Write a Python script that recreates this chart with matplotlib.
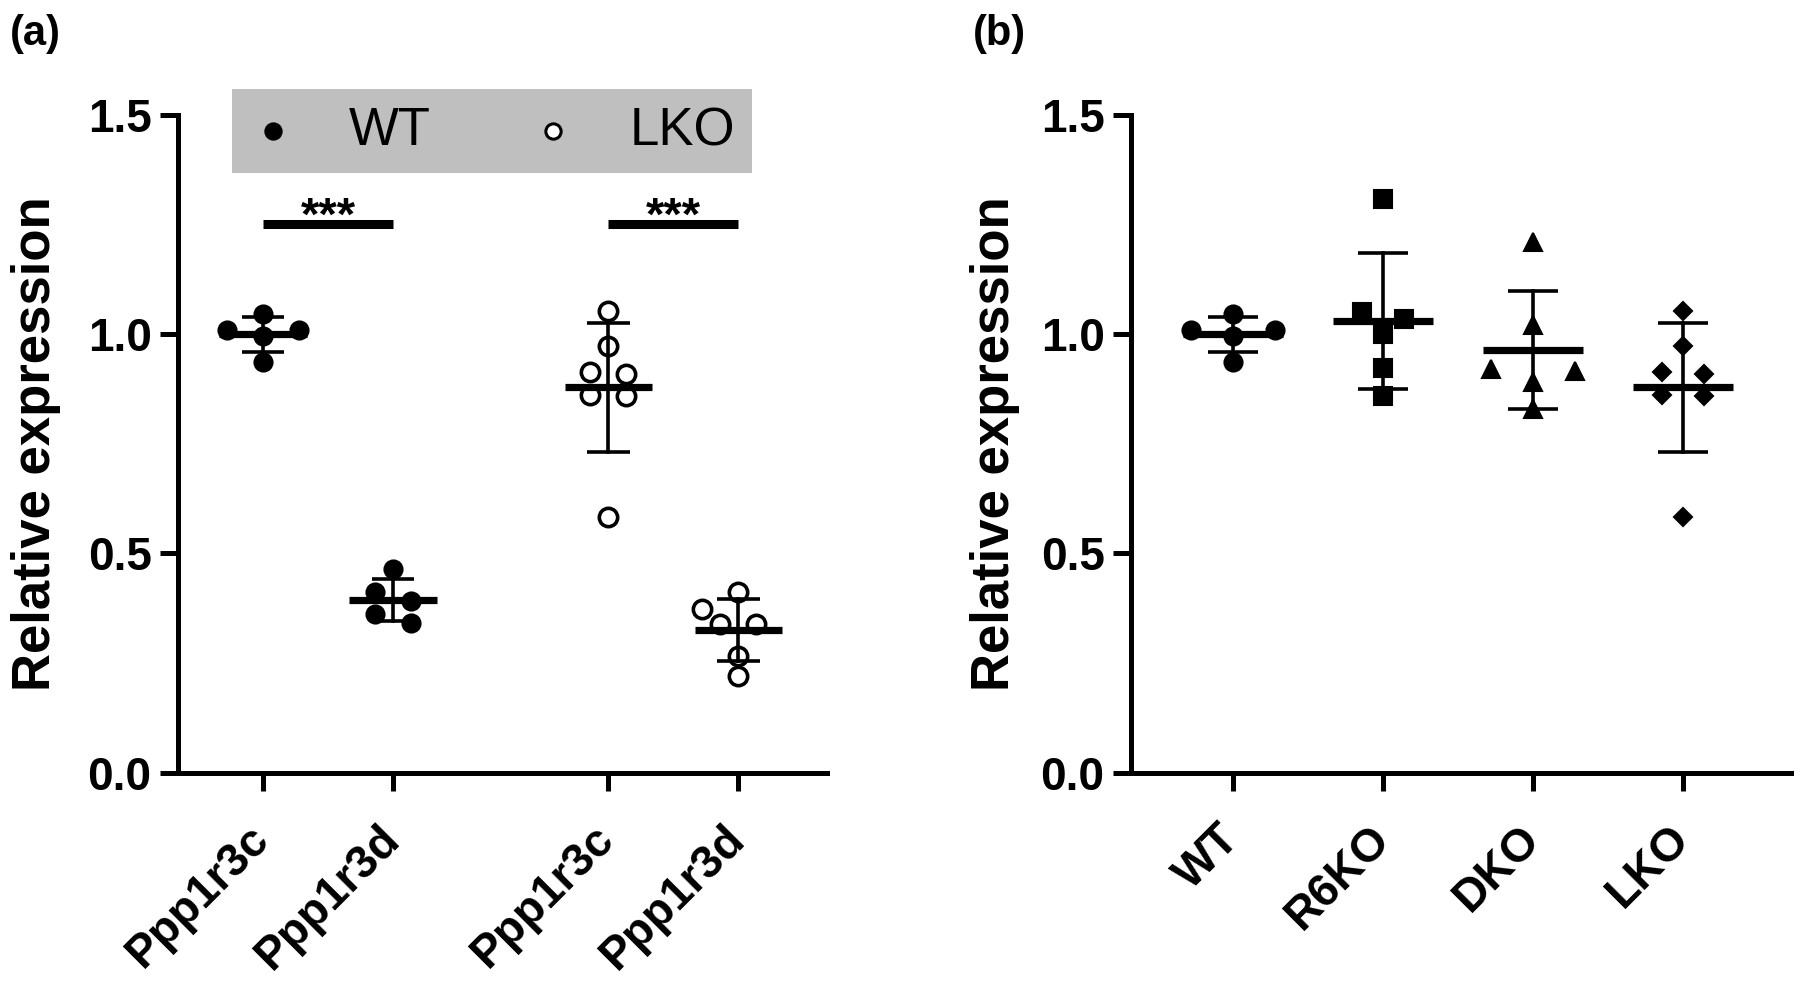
import numpy as np
import matplotlib
matplotlib.use("Agg")
import matplotlib.pyplot as plt
from matplotlib.patches import Rectangle
from matplotlib.lines import Line2D
from matplotlib.transforms import ScaledTranslation

plt.rcParams['font.family'] = ['Liberation Sans', 'DejaVu Sans']

# ---- data ----
# panel (a)
a_labels = ["Ppp1r3c", "Ppp1r3d", "Ppp1r3c", "Ppp1r3d"]
wt_r3c = [1.046, 1.010, 0.995, 1.010, 0.936]
wt_r3d = [0.464, 0.411, 0.392, 0.361, 0.341]
lko_r3c = [1.054, 0.973, 0.913, 0.909, 0.862, 0.858, 0.584]
lko_r3d = [0.413, 0.373, 0.339, 0.339, 0.266, 0.221]
sig_labels = ["***", "***"]

# panel (b)
b_labels = ["WT", "R6KO", "DKO", "LKO"]
r6ko = [1.309, 1.050, 1.034, 1.001, 0.923, 0.858]
dko = [1.210, 1.020, 0.921, 0.916, 0.890, 0.829]

legend_labels = ["WT", "LKO"]


def swarm(vals, step=0.28, gap=0.027, near=0.042):
    # rows of close values spread sideways, graphpad-ish
    vals = np.asarray(vals, dtype=float)
    order = np.argsort(-vals, kind="stable")
    rows = []
    cur = [order[0]]
    for i in order[1:]:
        if vals[cur[-1]] - vals[i] < gap:
            cur.append(i)
        else:
            rows.append(cur)
            cur = [i]
    rows.append(cur)
    off = np.full(len(vals), np.nan)
    for r in rows:
        n = len(r)
        slots = [(k - (n - 1) / 2) for k in range(n)]
        slots = sorted(slots, key=lambda s: (-abs(s), s))
        for i, s in zip(r, slots):
            off[i] = s * step
        if n == 1:
            i = r[0]
            for cand in [0.0, -step, step]:
                ok = True
                for j in range(len(vals)):
                    if j == i or np.isnan(off[j]):
                        continue
                    if abs(off[j] - cand) < step / 2 and abs(vals[j] - vals[i]) < near:
                        ok = False
                if ok:
                    off[i] = cand
                    break
    return off


def draw_group(ax, x, vals, marker, ms, filled=True):
    vals = np.asarray(vals)
    off = swarm(vals)
    ax.plot(x + off, vals, linestyle="none", marker=marker, ms=ms,
            mfc="black" if filled else "white", mec="black",
            mew=1.5 if filled else 2.6, zorder=3, clip_on=False)
    m = vals.mean()
    sd = vals.std(ddof=1)
    ax.plot([x - 0.335, x + 0.335], [m, m], color="black", lw=5.2,
            solid_capstyle="butt", zorder=4)
    ax.plot([x, x], [m - sd, m + sd], color="black", lw=2.6, zorder=4)
    for yy in (m - sd, m + sd):
        ax.plot([x - 0.165, x + 0.165], [yy, yy], color="black", lw=2.6,
                solid_capstyle="butt", zorder=4)


def style_axis(ax, labels, xpos, xlim):
    ax.set_ylim(0, 1.5)
    ax.set_xlim(*xlim)
    ax.set_yticks([0, 0.5, 1.0, 1.5])
    ax.set_yticklabels(["0.0", "0.5", "1.0", "1.5"], fontsize=33, fontweight="bold")
    ax.set_xticks(xpos)
    ax.set_xticklabels(labels, fontsize=33, fontweight="bold", rotation=45,
                       ha="right", va="center", rotation_mode="anchor")
    for lab in ax.get_xticklabels():
        lab.set_transform(lab.get_transform() + ScaledTranslation(0.16, 0, fig.dpi_scale_trans))
    ax.tick_params(axis="both", length=13, width=3.6, pad=6, color="black")
    ax.tick_params(axis="x", pad=30)
    for s in ["top", "right"]:
        ax.spines[s].set_visible(False)
    for s in ["left", "bottom"]:
        ax.spines[s].set_linewidth(3.6)
    ax.patch.set_alpha(0)


fig = plt.figure(figsize=(18, 9.89), dpi=100)
W, H = 1800.0, 989.0
y_bot, y_top = 772.7, 115.0
ax1 = fig.add_axes([178 / W, 1 - y_bot / H, (827 - 178) / W, (y_bot - y_top) / H])
ax2 = fig.add_axes([1131 / W, 1 - y_bot / H, (1791 - 1131) / W, (y_bot - y_top) / H])

# panel a
a_pos = [0, 1, 2.654, 3.654]
draw_group(ax1, a_pos[0], wt_r3c, "o", 13)
draw_group(ax1, a_pos[1], wt_r3d, "o", 13)
draw_group(ax1, a_pos[2], lko_r3c, "o", 13.2, filled=False)
draw_group(ax1, a_pos[3], lko_r3d, "o", 13.2, filled=False)
style_axis(ax1, a_labels, a_pos, (-0.654, 4.338))

for (x0, x1), lab in zip([(a_pos[0], a_pos[1]), (a_pos[2], a_pos[3])], sig_labels):
    ax1.plot([x0, x1], [1.2525, 1.2525], color="black", lw=6.5, solid_capstyle="butt")
    ax1.text((x0 + x1) / 2, 1.238, lab, ha="center", va="baseline",
             fontsize=34, fontweight="bold")

# panel b
b_pos = [0, 1, 2, 3]
draw_group(ax2, b_pos[0], wt_r3c, "o", 13)
draw_group(ax2, b_pos[1], r6ko, "s", 12.5)
draw_group(ax2, b_pos[2], dko, "^", 13)
draw_group(ax2, b_pos[3], lko_r3c, "D", 9.5)
style_axis(ax2, b_labels, b_pos, (-0.68, 3.72))

# y labels + panel letters
yc = 1 - (y_top + y_bot) / 2 / H
fig.text(36 / W, yc, "Relative expression", rotation=90, ha="center", va="center",
         fontsize=38, fontweight="bold")
fig.text(995 / W, yc, "Relative expression", rotation=90, ha="center", va="center",
         fontsize=38, fontweight="bold")
fig.text(10 / W, 1 - 14 / H, "(a)", ha="left", va="top", fontsize=30, fontweight="bold")
fig.text(973 / W, 1 - 14 / H, "(b)", ha="left", va="top", fontsize=30, fontweight="bold")

# legend box drawn by hand
fig.patches.append(Rectangle((232 / W, 1 - 173 / H), (752 - 232) / W, (173 - 89) / H,
                             transform=fig.transFigure, facecolor="#bfbfbf",
                             edgecolor="none", zorder=5))
fig.add_artist(Line2D([273 / W], [1 - 131 / H], transform=fig.transFigure, marker="o",
                      ms=12, mfc="black", mec="black", mew=1.2, zorder=6))
fig.add_artist(Line2D([553 / W], [1 - 131 / H], transform=fig.transFigure, marker="o",
                      ms=11, mfc="white", mec="black", mew=2.2, zorder=6))
fig.text(349 / W, 1 - 131 / H, legend_labels[0], ha="left", va="center", fontsize=38, zorder=7)
fig.text(630 / W, 1 - 131 / H, legend_labels[1], ha="left", va="center", fontsize=38, zorder=7)

fig.savefig("out.png", dpi=100)
